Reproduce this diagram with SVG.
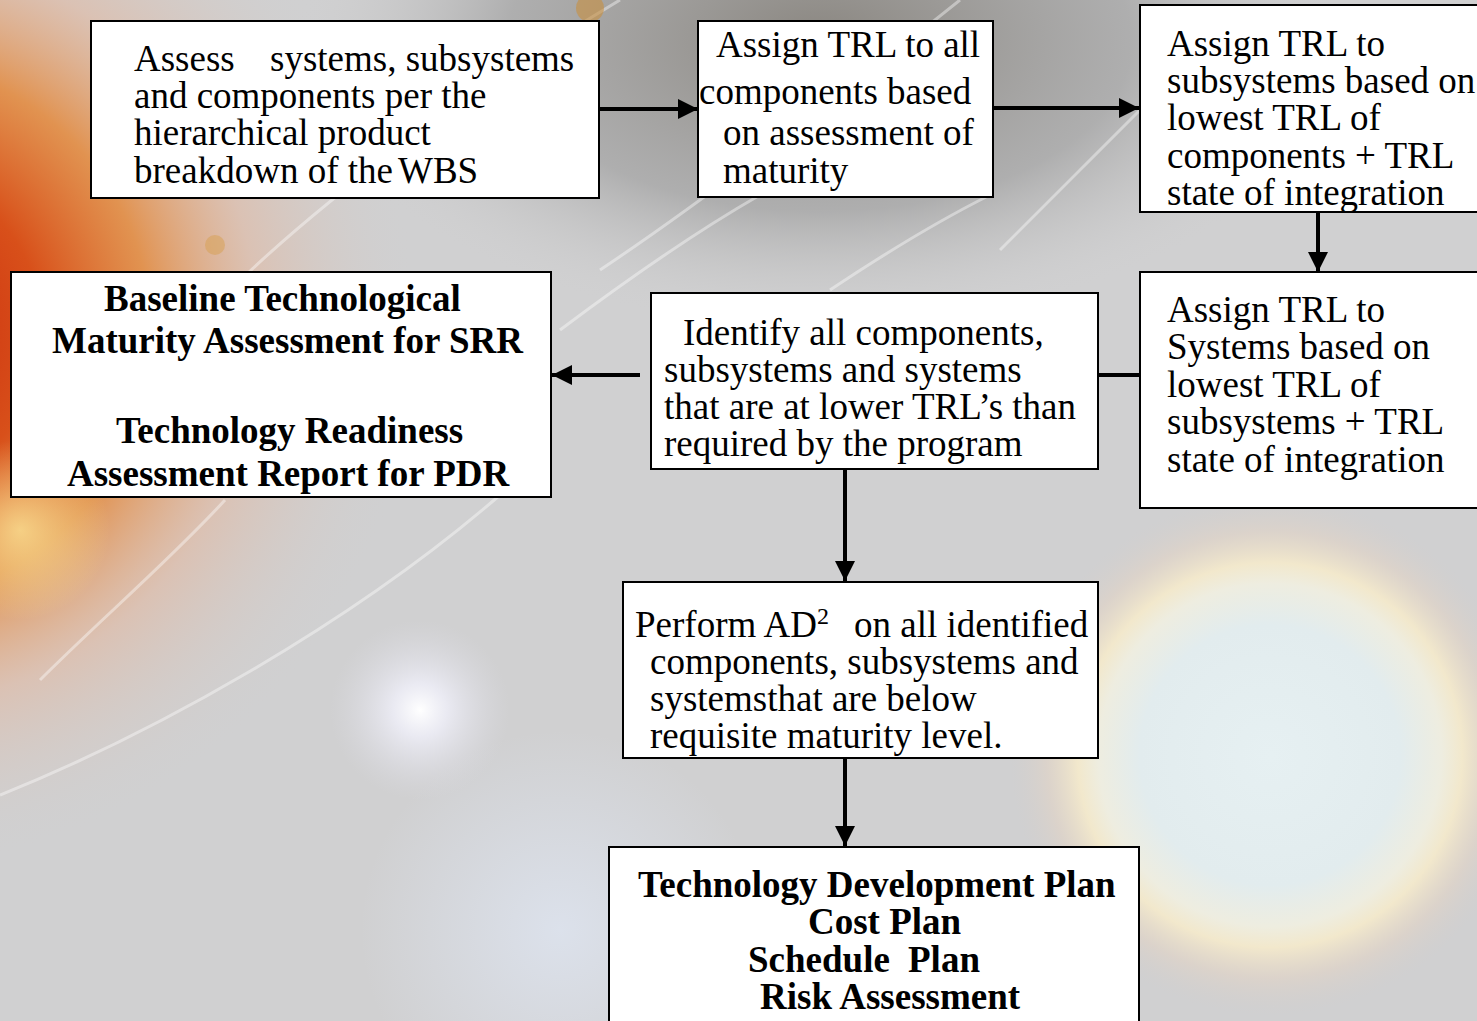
<svg xmlns="http://www.w3.org/2000/svg" width="1477" height="1021" viewBox="0 0 1477 1021">
  <style>
    .box { fill: #ffffff; stroke: #000000; stroke-width: 2; }
    .t { font-family: "Liberation Serif", "Times New Roman", serif; font-size: 37px; fill: #000000; }
    .b { font-family: "Liberation Serif", "Times New Roman", serif; font-size: 37px; font-weight: bold; fill: #000000; }
    .conn { stroke: #000000; stroke-width: 4; fill: none; }
    .orbit { fill: none; stroke: #ffffff; stroke-width: 3; stroke-opacity: 0.4; }
  </style>
  <defs>
    <marker id="arrow" markerUnits="userSpaceOnUse" markerWidth="20" markerHeight="20" viewBox="0 0 18 18" refX="18" refY="9" orient="auto">
      <path d="M0,0 L18,9 L0,18 Z" fill="#000000"/>
    </marker>
    <radialGradient id="sun" cx="-120" cy="330" r="540" gradientUnits="userSpaceOnUse">
      <stop offset="0" stop-color="#c8200a"/>
      <stop offset="0.3" stop-color="#d8501a"/>
      <stop offset="0.5" stop-color="#e4883a" stop-opacity="0.85"/>
      <stop offset="0.7" stop-color="#e8b090" stop-opacity="0.45"/>
      <stop offset="1" stop-color="#d0d0d0" stop-opacity="0"/>
    </radialGradient>
    <radialGradient id="sunglow" cx="20" cy="530" r="90" gradientUnits="userSpaceOnUse">
      <stop offset="0" stop-color="#fff0a0" stop-opacity="0.7"/>
      <stop offset="1" stop-color="#fff0a0" stop-opacity="0"/>
    </radialGradient>
    <radialGradient id="dark" cx="820" cy="40" r="520" gradientTransform="translate(820 40) scale(1 0.55) translate(-820 -40)" gradientUnits="userSpaceOnUse">
      <stop offset="0" stop-color="#8a8680"/>
      <stop offset="0.6" stop-color="#a0a0a0" stop-opacity="0.7"/>
      <stop offset="1" stop-color="#cdcdcd" stop-opacity="0"/>
    </radialGradient>
    <radialGradient id="neb" cx="1270" cy="755" r="260" gradientUnits="userSpaceOnUse">
      <stop offset="0" stop-color="#e6f0f2"/>
      <stop offset="0.5" stop-color="#e2ecee"/>
      <stop offset="0.66" stop-color="#eeede0"/>
      <stop offset="0.74" stop-color="#f2e8cc"/>
      <stop offset="0.86" stop-color="#e0d4c8" stop-opacity="0.7"/>
      <stop offset="1" stop-color="#d4cfcc" stop-opacity="0"/>
    </radialGradient>
    <radialGradient id="glow" cx="420" cy="710" r="90" gradientUnits="userSpaceOnUse">
      <stop offset="0" stop-color="#ffffff"/>
      <stop offset="0.3" stop-color="#f0f0fa" stop-opacity="0.8"/>
      <stop offset="1" stop-color="#dcdce4" stop-opacity="0"/>
    </radialGradient>
    <radialGradient id="bluish" cx="560" cy="930" r="200" gradientUnits="userSpaceOnUse">
      <stop offset="0" stop-color="#dde3ee" stop-opacity="0.9"/>
      <stop offset="1" stop-color="#dde3ee" stop-opacity="0"/>
    </radialGradient>
  </defs>

  <g id="background">
    <rect x="0" y="0" width="1477" height="1021" fill="#d0d0d1"/>
    <circle cx="560" cy="930" r="200" fill="url(#bluish)"/>
    <rect x="0" y="0" width="1477" height="420" fill="url(#dark)"/>
    <rect x="0" y="0" width="700" height="900" fill="url(#sun)"/>
    <rect x="0" y="420" width="140" height="220" fill="url(#sunglow)"/>
    <ellipse cx="1270" cy="755" rx="270" ry="270" fill="url(#neb)"/>
    <rect x="300" y="600" width="240" height="220" fill="url(#glow)"/>
    <path class="orbit" d="M0,795 C150,735 350,625 500,495"/>
    <path class="orbit" d="M40,680 C100,620 170,560 225,500" stroke-opacity="0.25"/>
    <path class="orbit" d="M560,330 C620,285 690,235 760,195"/>
    <path class="orbit" d="M830,290 C890,250 940,220 990,195"/>
    <path class="orbit" d="M220,300 C320,200 470,90 620,0" stroke-opacity="0.3"/>
    <path class="orbit" d="M600,270 C720,190 860,80 960,0" stroke-opacity="0.3"/>
    <path class="orbit" d="M1000,250 C1050,200 1100,150 1140,110" stroke-opacity="0.3"/>
    <circle cx="590" cy="8" r="14" fill="#c89040" fill-opacity="0.6"/>
    <circle cx="215" cy="245" r="10" fill="#d8a050" fill-opacity="0.5"/>
  </g>

  <g id="connectors">
    <line class="conn" x1="599" y1="109" x2="698" y2="109" marker-end="url(#arrow)"/>
    <line class="conn" x1="993" y1="108" x2="1139" y2="108" marker-end="url(#arrow)"/>
    <line class="conn" x1="1318" y1="212" x2="1318" y2="272" marker-end="url(#arrow)"/>
    <line class="conn" x1="1140" y1="375" x2="1098" y2="375"/>
    <line class="conn" x1="640" y1="375" x2="552" y2="375" marker-end="url(#arrow)"/>
    <line class="conn" x1="845" y1="469" x2="845" y2="581" marker-end="url(#arrow)"/>
    <line class="conn" x1="845" y1="758" x2="845" y2="846" marker-end="url(#arrow)"/>
  </g>

  <g id="node-assess">
    <rect class="box" x="91" y="21" width="508" height="177"/>
    <text class="t"><tspan x="134" y="71">Assess</tspan><tspan x="270" y="71">systems, subsystems</tspan></text>
    <text class="t" x="134" y="108">and components per the</text>
    <text class="t" x="134" y="145">hierarchical product</text>
    <text class="t"><tspan x="134" y="183">breakdown of the</tspan><tspan x="398" y="183">WBS</tspan></text>
  </g>

  <g id="node-assign-components">
    <rect class="box" x="698" y="21" width="295" height="176"/>
    <text class="t" x="716" y="57">Assign TRL to all</text>
    <text class="t" x="699" y="104">components based</text>
    <text class="t" x="723" y="145">on assessment of</text>
    <text class="t" x="723" y="183">maturity</text>
  </g>

  <g id="node-assign-subsystems">
    <rect class="box" x="1140" y="5" width="350" height="207"/>
    <text class="t" x="1167" y="56">Assign TRL to</text>
    <text class="t" x="1167" y="93">subsystems based on</text>
    <text class="t" x="1167" y="130">lowest TRL of</text>
    <text class="t" x="1167" y="168">components + TRL</text>
    <text class="t" x="1167" y="205">state of integration</text>
  </g>

  <g id="node-assign-systems">
    <rect class="box" x="1140" y="272" width="350" height="236"/>
    <text class="t" x="1167" y="322">Assign TRL to</text>
    <text class="t" x="1167" y="359">Systems based on</text>
    <text class="t" x="1167" y="397">lowest TRL of</text>
    <text class="t" x="1167" y="434">subsystems + TRL</text>
    <text class="t" x="1167" y="472">state of integration</text>
  </g>

  <g id="node-baseline">
    <rect class="box" x="11" y="272" width="540" height="225"/>
    <text class="b" x="104" y="311">Baseline Technological</text>
    <text class="b" x="52" y="353">Maturity Assessment for SRR</text>
    <text class="b" x="116" y="443">Technology Readiness</text>
    <text class="b" x="67" y="486">Assessment Report for PDR</text>
  </g>

  <g id="node-identify">
    <rect class="box" x="651" y="293" width="447" height="176"/>
    <text class="t" x="683" y="345">Identify all components,</text>
    <text class="t" x="664" y="382">subsystems and systems</text>
    <text class="t" x="664" y="419">that are at lower TRL’s than</text>
    <text class="t" x="664" y="456">required by the program</text>
  </g>

  <g id="node-perform">
    <rect class="box" x="623" y="582" width="475" height="176"/>
    <text class="t"><tspan x="635" y="637">Perform AD</tspan><tspan y="624" font-size="24">2</tspan><tspan x="854" y="637">on all identified</tspan></text>
    <text class="t" x="650" y="674">components, subsystems and</text>
    <text class="t" x="650" y="711">systemsthat are below</text>
    <text class="t" x="650" y="748">requisite maturity level.</text>
  </g>

  <g id="node-plans">
    <rect class="box" x="609" y="847" width="530" height="190"/>
    <text class="b" x="638" y="897">Technology Development Plan</text>
    <text class="b" x="808" y="934">Cost Plan</text>
    <text class="b"><tspan x="748" y="972">Schedule</tspan><tspan x="908" y="972">Plan</tspan></text>
    <text class="b" x="760" y="1009">Risk Assessment</text>
  </g>
</svg>
